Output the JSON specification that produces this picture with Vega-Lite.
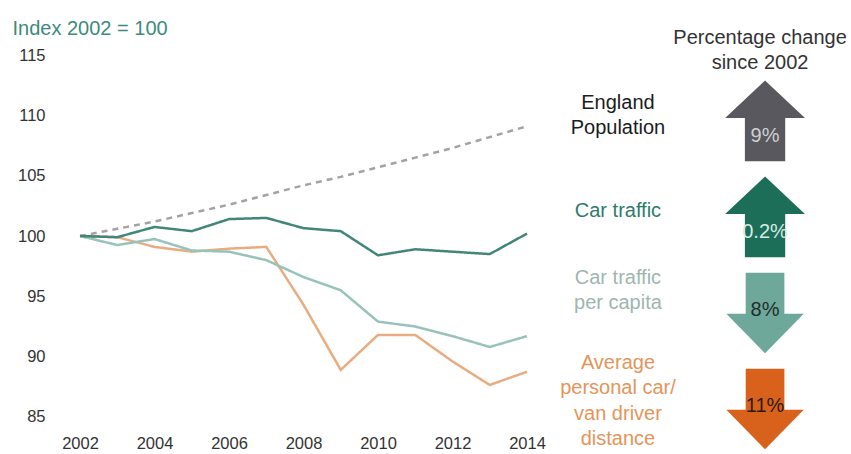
{
  "$schema": "https://vega.github.io/schema/vega-lite/v6.json",
  "autosize": {"type": "pad"},
  "padding": {"left": 12, "top": 18, "right": 0, "bottom": 0},
  "bounds": "flush",
  "spacing": 13,
  "config": {"view": {"stroke": null}, "font": "Liberation Sans"},
  "resolve": {"scale": {"x": "independent", "y": "independent", "color": "independent"}},
  "datasets": {
    "trend": [
      {"year": 2002, "series": "England Population", "value": 100},
      {"year": 2003, "series": "England Population", "value": 100.6},
      {"year": 2004, "series": "England Population", "value": 101.2},
      {"year": 2005, "series": "England Population", "value": 101.9},
      {"year": 2006, "series": "England Population", "value": 102.6},
      {"year": 2007, "series": "England Population", "value": 103.4},
      {"year": 2008, "series": "England Population", "value": 104.2},
      {"year": 2009, "series": "England Population", "value": 104.9},
      {"year": 2010, "series": "England Population", "value": 105.7},
      {"year": 2011, "series": "England Population", "value": 106.5},
      {"year": 2012, "series": "England Population", "value": 107.3},
      {"year": 2013, "series": "England Population", "value": 108.2},
      {"year": 2014, "series": "England Population", "value": 109.1},
      {"year": 2002, "series": "Average personal car/van driver distance", "value": 100},
      {"year": 2003, "series": "Average personal car/van driver distance", "value": 99.9},
      {"year": 2004, "series": "Average personal car/van driver distance", "value": 99.1},
      {"year": 2005, "series": "Average personal car/van driver distance", "value": 98.7},
      {"year": 2006, "series": "Average personal car/van driver distance", "value": 98.95},
      {"year": 2007, "series": "Average personal car/van driver distance", "value": 99.1},
      {"year": 2008, "series": "Average personal car/van driver distance", "value": 94.3},
      {"year": 2009, "series": "Average personal car/van driver distance", "value": 88.9},
      {"year": 2010, "series": "Average personal car/van driver distance", "value": 91.8},
      {"year": 2011, "series": "Average personal car/van driver distance", "value": 91.8},
      {"year": 2012, "series": "Average personal car/van driver distance", "value": 89.6},
      {"year": 2013, "series": "Average personal car/van driver distance", "value": 87.65},
      {"year": 2014, "series": "Average personal car/van driver distance", "value": 88.75},
      {"year": 2002, "series": "Car traffic per capita", "value": 100},
      {"year": 2003, "series": "Car traffic per capita", "value": 99.25},
      {"year": 2004, "series": "Car traffic per capita", "value": 99.75},
      {"year": 2005, "series": "Car traffic per capita", "value": 98.8},
      {"year": 2006, "series": "Car traffic per capita", "value": 98.7},
      {"year": 2007, "series": "Car traffic per capita", "value": 98.0},
      {"year": 2008, "series": "Car traffic per capita", "value": 96.6},
      {"year": 2009, "series": "Car traffic per capita", "value": 95.5},
      {"year": 2010, "series": "Car traffic per capita", "value": 92.9},
      {"year": 2011, "series": "Car traffic per capita", "value": 92.5},
      {"year": 2012, "series": "Car traffic per capita", "value": 91.7},
      {"year": 2013, "series": "Car traffic per capita", "value": 90.8},
      {"year": 2014, "series": "Car traffic per capita", "value": 91.7},
      {"year": 2002, "series": "Car traffic", "value": 100},
      {"year": 2003, "series": "Car traffic", "value": 99.9},
      {"year": 2004, "series": "Car traffic", "value": 100.75},
      {"year": 2005, "series": "Car traffic", "value": 100.4},
      {"year": 2006, "series": "Car traffic", "value": 101.4},
      {"year": 2007, "series": "Car traffic", "value": 101.5},
      {"year": 2008, "series": "Car traffic", "value": 100.65},
      {"year": 2009, "series": "Car traffic", "value": 100.4},
      {"year": 2010, "series": "Car traffic", "value": 98.4},
      {"year": 2011, "series": "Car traffic", "value": 98.9},
      {"year": 2012, "series": "Car traffic", "value": 98.7},
      {"year": 2013, "series": "Car traffic", "value": 98.5},
      {"year": 2014, "series": "Car traffic", "value": 100.2}
    ],
    "summary": [
      {"series": "England Population", "label": "England\nPopulation", "pct": "9%", "direction": "up"},
      {"series": "Car traffic", "label": "Car traffic", "pct": "0.2%", "direction": "up"},
      {"series": "Car traffic per capita", "label": "Car traffic\nper capita", "pct": "8%", "direction": "down"},
      {"series": "Average personal car/van driver distance", "label": "Average\npersonal car/\nvan driver\ndistance", "pct": "11%", "direction": "down"}
    ]
  },
  "hconcat": [
    {
      "width": 447,
      "height": 386,
      "data": {"name": "trend"},
      "mark": {"type": "line", "strokeWidth": 2.5},
      "encoding": {
        "x": {
          "field": "year", "type": "quantitative",
          "scale": {"domain": [2002, 2014], "nice": false, "zero": false},
          "axis": {"values": [2002, 2004, 2006, 2008, 2010, 2012, 2014], "format": "d", "domain": false, "ticks": false, "grid": false, "labelFontSize": 16.5, "labelColor": "#333333", "labelPadding": 6, "labelFlush": false, "title": null}
        },
        "y": {
          "field": "value", "type": "quantitative",
          "scale": {"domain": [84, 116], "nice": false, "zero": false},
          "axis": {"values": [85, 90, 95, 100, 105, 110, 115], "domain": false, "ticks": false, "grid": false, "labelFontSize": 16.5, "labelColor": "#333333", "labelPadding": 35, "title": "Index 2002 = 100", "titleAngle": 0, "titleAlign": "left", "titleBaseline": "alphabetic", "titleX": -68, "titleY": -9, "titleColor": "#3d8b7b", "titleFontSize": 20, "titleFontWeight": "normal"}
        },
        "color": {
          "field": "series", "type": "nominal",
          "scale": {"domain": ["England Population", "Average personal car/van driver distance", "Car traffic per capita", "Car traffic"], "range": ["#a3a3a3", "#e8ac80", "#98c3bb", "#428679"]},
          "legend": null
        },
        "strokeDash": {
          "field": "series", "type": "nominal",
          "scale": {"domain": ["England Population", "Average personal car/van driver distance", "Car traffic per capita", "Car traffic"], "range": [[6, 5], [1, 0], [1, 0], [1, 0]]},
          "legend": null
        }
      }
    },
    {
      "width": 303,
      "height": 400,
      "data": {"name": "summary"},
      "resolve": {"scale": {"color": "independent"}},
      "layer": [
        {
          "mark": {"type": "point", "filled": true, "opacity": 1, "size": 6500, "strokeWidth": 0},
          "encoding": {
            "x": {"datum": "arrow", "type": "nominal", "scale": {"type": "point", "domain": ["label", "arrow"], "padding": 0.53}, "axis": null},
            "y": {"field": "series", "type": "nominal", "scale": {"type": "point", "domain": ["England Population", "Car traffic", "Car traffic per capita", "Average personal car/van driver distance"], "padding": 0.583, "align": 0.696}, "axis": null},
            "shape": {"field": "direction", "type": "nominal", "scale": {"domain": ["up", "down"], "range": ["M0,-1L0.99,-0.07L0.5,-0.07L0.5,1L-0.5,1L-0.5,-0.07L-0.99,-0.07Z", "M-0.48,-1L0.48,-1L0.48,0.02L0.96,0.02L0,1L-0.96,0.02L-0.48,0.02Z"]}, "legend": null},
            "color": {"field": "series", "type": "nominal", "scale": {"domain": ["England Population", "Car traffic", "Car traffic per capita", "Average personal car/van driver distance"], "range": ["#58585e", "#1d6e59", "#6ea89b", "#d8621c"]}, "legend": null}
          }
        },
        {
          "transform": [{"filter": "datum.series === 'England Population'"}],
          "mark": {"type": "text", "fontSize": 20, "lineBreak": "\n", "lineHeight": 25.5, "align": "center", "baseline": "middle", "dy": -18, "color": "#1c1c1c"},
          "encoding": {
            "x": {"datum": "label", "type": "nominal"},
            "y": {"field": "series", "type": "nominal"},
            "text": {"field": "label"}
          }
        },
        {
          "transform": [{"filter": "datum.series === 'Car traffic'"}],
          "mark": {"type": "text", "fontSize": 20, "lineBreak": "\n", "lineHeight": 25.5, "align": "center", "baseline": "middle", "dy": -6, "color": "#2e7b6b"},
          "encoding": {
            "x": {"datum": "label", "type": "nominal"},
            "y": {"field": "series", "type": "nominal"},
            "text": {"field": "label"}
          }
        },
        {
          "transform": [{"filter": "datum.series === 'Car traffic per capita'"}],
          "mark": {"type": "text", "fontSize": 20, "lineBreak": "\n", "lineHeight": 25.5, "align": "center", "baseline": "middle", "dy": -35, "color": "#9fb5b0"},
          "encoding": {
            "x": {"datum": "label", "type": "nominal"},
            "y": {"field": "series", "type": "nominal"},
            "text": {"field": "label"}
          }
        },
        {
          "transform": [{"filter": "datum.series === 'Average personal car/van driver distance'"}],
          "mark": {"type": "text", "fontSize": 20, "lineBreak": "\n", "lineHeight": 25.5, "align": "center", "baseline": "middle", "dy": -46, "color": "#e3955a"},
          "encoding": {
            "x": {"datum": "label", "type": "nominal"},
            "y": {"field": "series", "type": "nominal"},
            "text": {"field": "label"}
          }
        },
        {
          "transform": [{"filter": "datum.direction === 'up'"}],
          "mark": {"type": "text", "fontSize": 20, "align": "center", "baseline": "middle", "dy": 15},
          "encoding": {
            "x": {"datum": "arrow", "type": "nominal"},
            "y": {"field": "series", "type": "nominal"},
            "text": {"field": "pct"},
            "color": {"field": "series", "type": "nominal", "scale": {"domain": ["England Population", "Car traffic"], "range": ["#cfcfd2", "#d5ebe4"]}, "legend": null}
          }
        },
        {
          "transform": [{"filter": "datum.direction === 'down'"}],
          "mark": {"type": "text", "fontSize": 20, "align": "center", "baseline": "middle", "dy": -3},
          "encoding": {
            "x": {"datum": "arrow", "type": "nominal"},
            "y": {"field": "series", "type": "nominal"},
            "text": {"field": "pct"},
            "color": {"field": "series", "type": "nominal", "scale": {"domain": ["Car traffic per capita", "Average personal car/van driver distance"], "range": ["#1f2e2a", "#2d1a0e"]}, "legend": null}
          }
        },
        {
          "data": {"values": [{"header": "Percentage change\nsince 2002"}]},
          "mark": {"type": "text", "fontSize": 20, "lineBreak": "\n", "lineHeight": 25, "align": "center", "baseline": "middle", "dy": -83, "dx": -5, "color": "#333333"},
          "encoding": {
            "x": {"datum": "arrow", "type": "nominal"},
            "y": {"datum": "England Population", "type": "nominal"},
            "text": {"field": "header"}
          }
        }
      ]
    }
  ]
}
